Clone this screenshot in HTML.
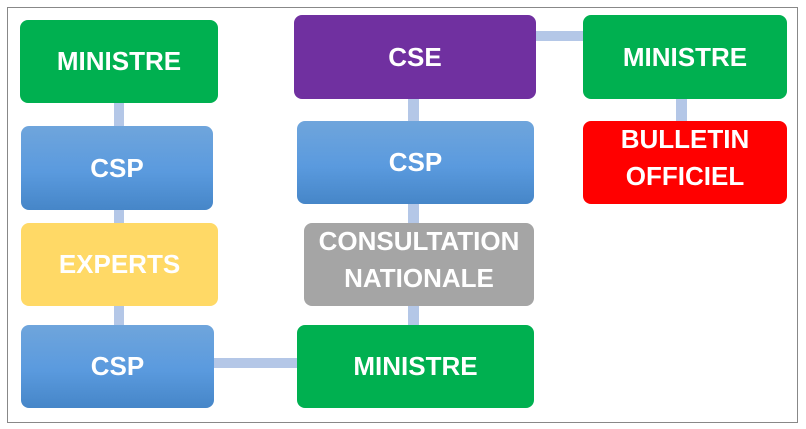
<!DOCTYPE html>
<html><head><meta charset="utf-8"><style>
body{margin:0;width:806px;height:429px;background:#fff;position:relative;overflow:hidden;font-family:"Liberation Sans",sans-serif}
.frame{position:absolute;left:7px;top:7px;width:789px;height:414px;border:1px solid #888;}
.c{position:absolute;background:#b4c7e7}
.b{position:absolute;box-sizing:border-box;border-radius:8px;color:#fff;font-weight:bold;font-size:26px;display:flex;align-items:center;justify-content:center;text-align:center;line-height:37px}
.t{padding-bottom:9px}
.g{background:#00b050}
.bl{background:linear-gradient(#6fa5dc,#5a9ade 55%,#4686c8)}
</style></head><body>
<div class="frame"></div>
<div class="c" style="left:114px;top:100px;width:10px;height:230px"></div>
<div class="c" style="left:210px;top:358px;width:90px;height:10px"></div>
<div class="c" style="left:408px;top:95px;width:11px;height:235px"></div>
<div class="c" style="left:533px;top:31px;width:53px;height:10px"></div>
<div class="c" style="left:676px;top:96px;width:11px;height:28px"></div>
<div class="b g" style="left:20px;top:20px;width:198px;height:83px">MINISTRE</div>
<div class="b bl" style="left:21px;top:126px;width:192px;height:84px">CSP</div>
<div class="b" style="left:21px;top:223px;width:197px;height:83px;background:#ffd966">EXPERTS</div>
<div class="b bl" style="left:21px;top:325px;width:193px;height:83px">CSP</div>
<div class="b g" style="left:297px;top:325px;width:237px;height:83px">MINISTRE</div>
<div class="b t" style="left:304px;top:223px;width:230px;height:83px;background:#a5a5a5">CONSULTATION<br>NATIONALE</div>
<div class="b bl" style="left:297px;top:121px;width:237px;height:83px">CSP</div>
<div class="b" style="left:294px;top:15px;width:242px;height:84px;background:#7030a0">CSE</div>
<div class="b g" style="left:583px;top:15px;width:204px;height:84px">MINISTRE</div>
<div class="b t" style="left:583px;top:121px;width:204px;height:83px;background:#ff0000">BULLETIN<br>OFFICIEL</div>
</body></html>
